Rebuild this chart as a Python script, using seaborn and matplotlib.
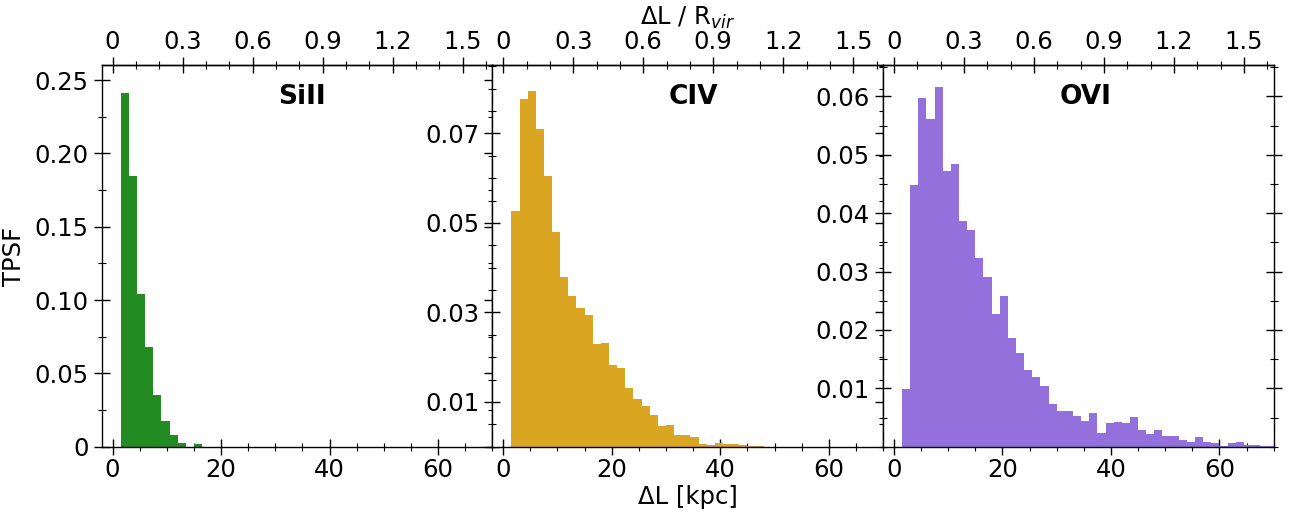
import numpy as np
import pandas as pd
import matplotlib
matplotlib.use("Agg")
import matplotlib.pyplot as plt
from matplotlib.ticker import MultipleLocator, FixedLocator, NullFormatter
import seaborn as sns

# ---------------- data (TPSF per 1.5 kpc bin, bins starting at 1.5 kpc) ----------------
bin_width = 1.5
bin_start = 1.5

sii_vals = [0.2409, 0.1845, 0.1041, 0.0680, 0.0355, 0.0175, 0.0080, 0.0025, 0.0, 0.0018]

civ_vals = [0.0526, 0.0778, 0.0794, 0.0709, 0.0606, 0.0479, 0.0379, 0.0336, 0.0310,
            0.0294, 0.0229, 0.0231, 0.0182, 0.0176, 0.0131, 0.0106, 0.0091, 0.0071,
            0.0046, 0.0048, 0.0026, 0.0026, 0.0022, 0.0006, 0.0004, 0.0008, 0.0006,
            0.0006, 0.0004, 0.00015, 0.00015]

ovi_vals = [0.0099, 0.0448, 0.0598, 0.0562, 0.0617, 0.0473, 0.0484, 0.0386, 0.0371,
            0.0323, 0.0290, 0.0227, 0.0259, 0.0186, 0.0160, 0.0131, 0.0119, 0.0104,
            0.0073, 0.0061, 0.0061, 0.0052, 0.0044, 0.0058, 0.0023, 0.0040, 0.0042,
            0.0040, 0.0051, 0.0029, 0.0022, 0.0029, 0.0018, 0.0018, 0.0011, 0.0008,
            0.0017, 0.0008, 0.0006, 0.0001, 0.0006, 0.0008, 0.0003, 0.0003, 0.0001,
            0.0001]

ions = ["SiII", "CIV", "OVI"]
colors = ["#228B22", "#DAA520", "#9370DB"]
ylims = [0.26, 0.0852, 0.0653]
y_major = [[0, 0.05, 0.10, 0.15, 0.20, 0.25],
           [0.01, 0.03, 0.05, 0.07],
           [0.01, 0.02, 0.03, 0.04, 0.05, 0.06]]
y_labels = [["0", "0.05", "0.10", "0.15", "0.20", "0.25"],
            ["0.01", "0.03", "0.05", "0.07"],
            ["0.01", "0.02", "0.03", "0.04", "0.05", "0.06"]]
y_minor = [0.025, 0.005, 0.005]
x_ticks = [0, 20, 40, 60]
top_ticks = [0, 0.3, 0.6, 0.9, 1.2, 1.5]
top_labels = ["0", "0.3", "0.6", "0.9", "1.2", "1.5"]
r_vir = 43.0  # kpc

all_vals = [sii_vals, civ_vals, ovi_vals]

# ---------------- style ----------------
sns.set_style("ticks")
plt.rcParams["font.family"] = ["DejaVu Sans"]
plt.rcParams["axes.linewidth"] = 1.0
plt.rcParams["text.color"] = "black"
plt.rcParams["axes.labelcolor"] = "black"
plt.rcParams["xtick.color"] = "black"
plt.rcParams["ytick.color"] = "black"
plt.rcParams["axes.edgecolor"] = "black"

fs = 17.5

fig = plt.figure(figsize=(12.91, 5.14), dpi=100)
axes = fig.subplots(1, 3)
fig.subplots_adjust(left=0.0788, right=0.9866, bottom=0.1309, top=0.8726, wspace=0)

for i, ax in enumerate(axes):
    vals = np.asarray(all_vals[i], dtype=float)
    n = len(vals)
    centers = bin_start + bin_width * (np.arange(n) + 0.5)
    df = pd.DataFrame({"dL": centers, "tpsf": vals})
    sns.histplot(data=df, x="dL", weights="tpsf", binwidth=bin_width,
                 binrange=(bin_start, bin_start + bin_width * n), stat="count",
                 color=colors[i], alpha=1.0, linewidth=0, ax=ax)
    ax.set_xlim(-2, 70)
    ax.set_ylim(0, ylims[i])
    ax.set_xlabel("")
    ax.set_ylabel("")

    ax.xaxis.set_major_locator(FixedLocator(x_ticks))
    ax.xaxis.set_minor_locator(MultipleLocator(5))
    ax.set_xticklabels([str(t) for t in x_ticks])
    ax.yaxis.set_major_locator(FixedLocator(y_major[i]))
    ax.set_yticklabels(y_labels[i])
    ax.yaxis.set_minor_locator(MultipleLocator(y_minor[i]))
    ax.yaxis.set_minor_formatter(NullFormatter())

    ax.tick_params(axis="both", which="major", direction="inout", length=12,
                   width=1.0, labelsize=fs, top=False, right=True, bottom=True, left=True,
                   colors="black")
    ax.tick_params(axis="both", which="minor", direction="inout", length=6,
                   width=0.8, top=False, right=True, bottom=True, left=True,
                   colors="black")
    ax.tick_params(axis="x", which="major", pad=2)
    for s in ax.spines.values():
        s.set_visible(True)
        s.set_color("black")

    sec = ax.secondary_xaxis("top", functions=(lambda x: x / r_vir, lambda x: x * r_vir))
    sec.xaxis.set_major_locator(FixedLocator(top_ticks))
    sec.set_xticklabels(top_labels)
    sec.xaxis.set_minor_locator(MultipleLocator(0.1))
    sec.tick_params(axis="x", which="major", direction="inout", length=12, width=1.0,
                    labelsize=fs, pad=2, colors="black")
    sec.tick_params(axis="x", which="minor", direction="inout", length=6, width=0.8,
                    colors="black")

    ax.text(0.451, 0.918, ions[i], transform=ax.transAxes, ha="left", va="center",
            fontsize=19, fontweight="bold", color="black")

    if i == 1:
        ax.set_xlabel("ΔL [kpc]", fontsize=fs, labelpad=2, color="black")
        sec.set_xlabel("ΔL / R$_{vir}$", fontsize=fs, labelpad=4, color="black")
    if i == 0:
        ax.set_ylabel("TPSF", fontsize=fs, labelpad=6, color="black")

fig.savefig("out.png", dpi=100)
